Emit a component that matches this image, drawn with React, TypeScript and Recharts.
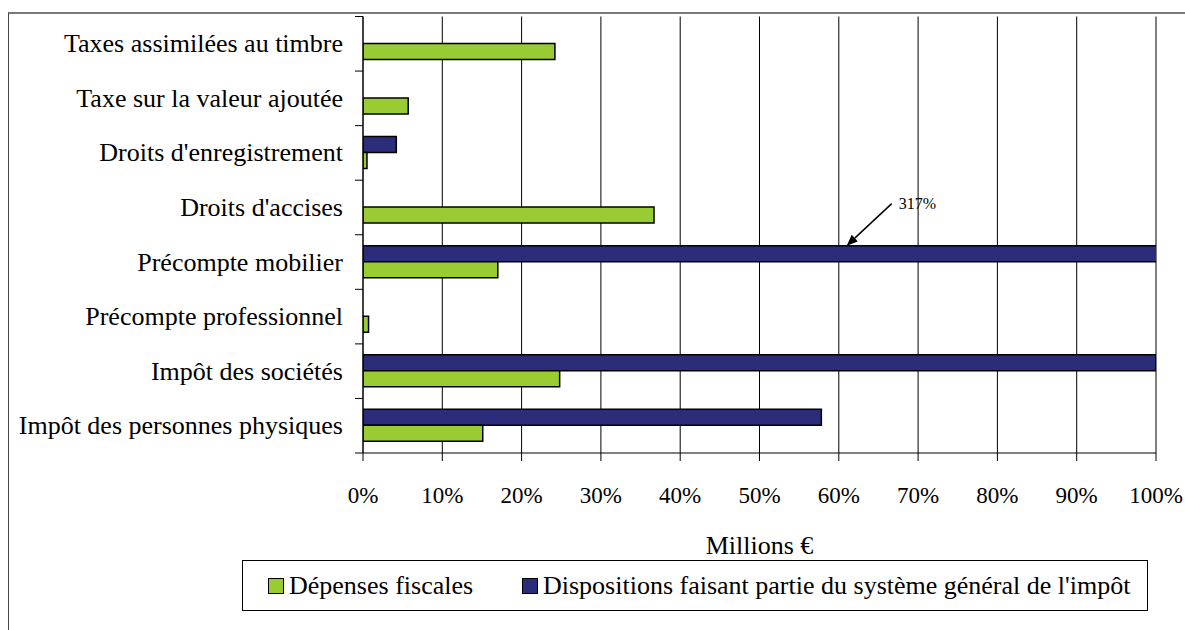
import { BarChart, Bar, XAxis, YAxis, CartesianGrid, LabelList } from 'recharts';

const categories = [
  'Taxes assimilées au timbre',
  'Taxe sur la valeur ajoutée',
  "Droits d'enregistrement",
  "Droits d'accises",
  'Précompte mobilier',
  'Précompte professionnel',
  'Impôt des sociétés',
  'Impôt des personnes physiques',
];

// % values; bars above 100 are clipped by the axis
const depensesFiscales = [24.2, 5.7, 0.5, 36.7, 17.0, 0.7, 24.8, 15.1];
const dispositionsGenerales = [null, null, 4.2, null, 317, null, 100, 57.8];

const xTicks = [0, 10, 20, 30, 40, 50, 60, 70, 80, 90, 100];

const seriesNames = ['Dépenses fiscales', "Dispositions faisant partie du système général de l'impôt"];
const axisTitle = 'Millions €';

const GREEN = '#99cc33';
const NAVY = '#2b2c7a';
const FONT = '"Liberation Serif", "Times New Roman", serif';

const W = 1185;
const H = 630;
const M = { top: 16.5, right: 29, bottom: 0, left: 0 };
const Y_AXIS_W = 363;
const X_AXIS_H = 177;
const BAND = (H - M.top - M.bottom - X_AXIS_H) / categories.length;

const data = categories.map((category, i) => ({
  category,
  depenses: depensesFiscales[i],
  dispositions: dispositionsGenerales[i],
}));

function CategoryTick(props: any) {
  const { x, y, payload, index } = props;
  const last = index === categories.length - 1;
  return (
    <g>
      <text
        x={x - 20}
        y={y}
        textAnchor="end"
        dominantBaseline="central"
        fontSize={26}
        fontFamily={FONT}
        fill="#000"
      >
        {payload.value}
      </text>
      <line x1={x - 8} x2={x} y1={y - BAND / 2} y2={y - BAND / 2} stroke="#000" />
      {last && <line x1={x - 8} x2={x} y1={y + BAND / 2} y2={y + BAND / 2} stroke="#000" />}
    </g>
  );
}

// arrow + text for the bar that runs off the scale
function OverflowNote(props: any) {
  const { x, y, width, value } = props;
  if (value == null || value !== 317) return null;
  const tipX = x + width * (61 / value);
  const tipY = y;
  const tailX = tipX + 45;
  const tailY = tipY - 42;
  const dx = tipX - tailX;
  const dy = tipY - tailY;
  const len = Math.sqrt(dx * dx + dy * dy);
  const ux = dx / len;
  const uy = dy / len;
  const hl = 11;
  const hw = 4.5;
  const bx = tipX - ux * hl;
  const by = tipY - uy * hl;
  return (
    <g>
      <line x1={tailX} y1={tailY} x2={bx} y2={by} stroke="#000" strokeWidth={1.5} />
      <polygon
        points={`${tipX},${tipY} ${bx - uy * hw},${by + ux * hw} ${bx + uy * hw},${by - ux * hw}`}
        fill="#000"
      />
      <text x={tailX + 7} y={tailY + 5} fontSize={16} fontFamily={FONT} fill="#000">
        {`${value}%`}
      </text>
    </g>
  );
}

function Swatch({ color }: { color: string }) {
  return (
    <span
      style={{
        display: 'inline-block',
        width: 16,
        height: 16,
        boxSizing: 'border-box',
        background: color,
        border: '1.5px solid #000',
        marginRight: 5,
      }}
    />
  );
}

export default function App() {
  return (
    <div style={{ position: 'fixed', left: 0, top: 0, width: W, height: H, background: '#fff', overflow: 'hidden' }}>
      <div
        style={{
          position: 'absolute',
          left: 8,
          top: 12,
          width: W,
          height: H,
          borderTop: '2px solid #7a7a7a',
          borderLeft: '1px solid #444',
        }}
      />
      <div style={{ position: 'absolute', left: 0, top: 0 }}>
        <BarChart
          width={W}
          height={H}
          data={data}
          layout="vertical"
          margin={M}
          barCategoryGap="20%"
          barGap={0}
        >
          <CartesianGrid horizontal={false} stroke="#000" />
          <XAxis
            type="number"
            domain={[0, 100]}
            allowDataOverflow
            ticks={xTicks}
            interval={0}
            tickFormatter={(v) => `${v}%`}
            height={X_AXIS_H}
            tickSize={8}
            tickMargin={26}
            tick={{ fill: '#000', fontSize: 23, fontFamily: FONT }}
            axisLine={{ stroke: '#000' }}
            tickLine={{ stroke: '#000' }}
            label={{ value: axisTitle, position: 'insideTop', offset: 83, fill: '#000', fontSize: 26, fontFamily: FONT }}
          />
          <XAxis
            xAxisId="top"
            orientation="top"
            type="number"
            domain={[0, 100]}
            height={0}
            tick={false}
            tickLine={false}
            axisLine={{ stroke: '#a0a0a0' }}
          />
          <YAxis
            type="category"
            dataKey="category"
            width={Y_AXIS_W}
            tickSize={0}
            tickMargin={0}
            tickLine={false}
            interval={0}
            tick={<CategoryTick />}
            axisLine={{ stroke: '#000' }}
          />
          <YAxis
            yAxisId="right"
            orientation="right"
            type="category"
            dataKey="category"
            width={0}
            tick={false}
            tickLine={false}
            axisLine={{ stroke: '#a0a0a0' }}
          />
          <Bar dataKey="dispositions" name={seriesNames[1]} fill={NAVY} stroke="#000" strokeWidth={1.5} isAnimationActive={false}>
            <LabelList dataKey="dispositions" content={<OverflowNote />} />
          </Bar>
          <Bar dataKey="depenses" name={seriesNames[0]} fill={GREEN} stroke="#000" strokeWidth={1.5} isAnimationActive={false} />
        </BarChart>
      </div>
      <div
        style={{
          position: 'absolute',
          left: 242,
          top: 560,
          width: 906,
          height: 51,
          boxSizing: 'border-box',
          border: '1px solid #000',
          fontFamily: FONT,
          fontSize: 26,
          color: '#000',
        }}
      >
        <div style={{ position: 'absolute', left: 25, top: 0, height: 49, display: 'flex', alignItems: 'center' }}>
          <Swatch color={GREEN} />
          {seriesNames[0]}
        </div>
        <div style={{ position: 'absolute', left: 279, top: 0, height: 49, display: 'flex', alignItems: 'center' }}>
          <Swatch color={NAVY} />
          {seriesNames[1]}
        </div>
      </div>
    </div>
  );
}
